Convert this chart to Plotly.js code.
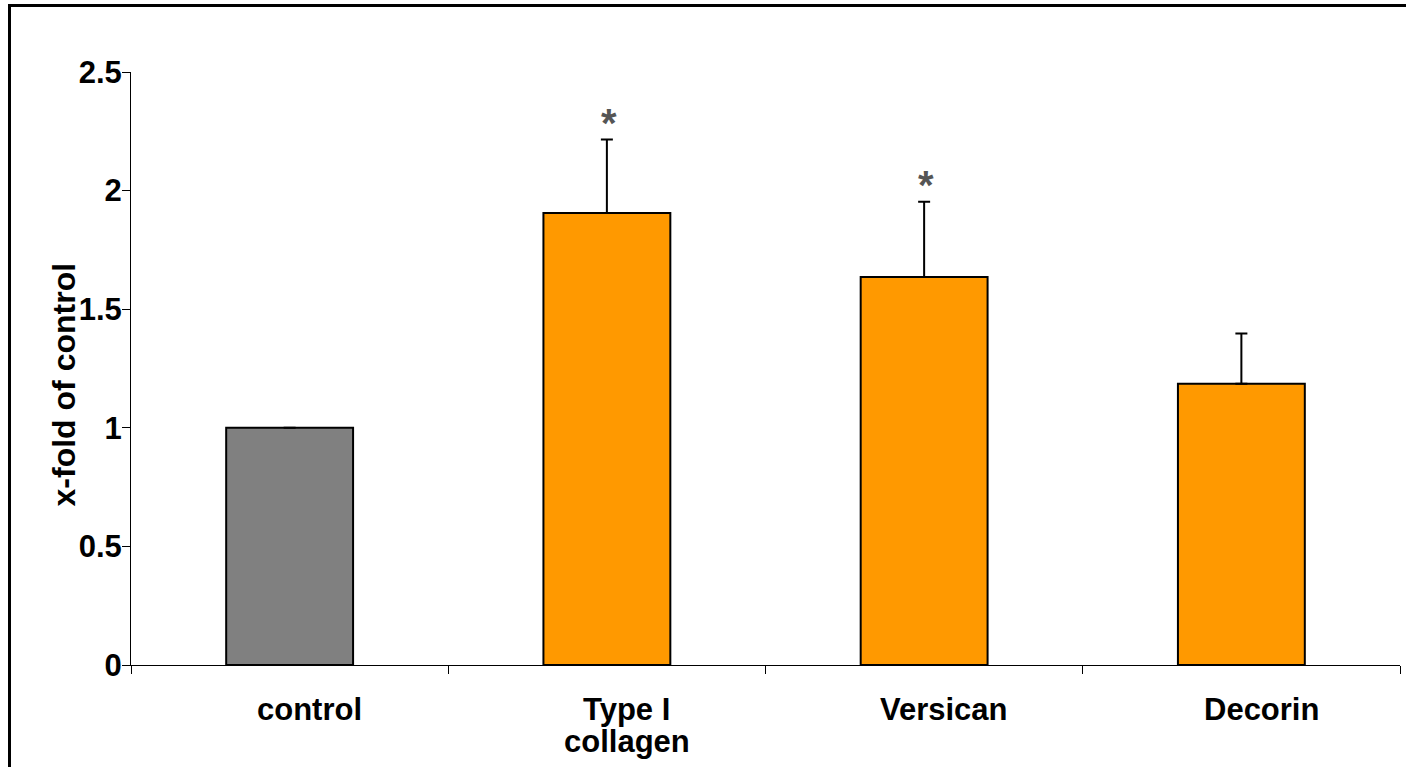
<!DOCTYPE html>
<html><head><meta charset="utf-8">
<script src="https://cdn.plot.ly/plotly-3.0.1.min.js"></script>
<style>
html,body{margin:0;padding:0;background:#fff;overflow:hidden}
#wrap{position:relative;width:1406px;height:767px}
#chart{width:1406px;height:767px}
#frame{position:absolute;left:8px;top:4px;width:1420px;height:790px;border-left:3px solid #000;border-top:3px solid #000;pointer-events:none}
</style></head><body>
<div id="wrap"><div id="chart"></div><div id="frame"></div></div>
<script>
const categories = ['control', 'Type I collagen', 'Versican', 'Decorin'];
const categoryLabelLines = [['control'], ['Type I', 'collagen'], ['Versican'], ['Decorin']];
const foldValues = [1.00, 1.906, 1.636, 1.186];
const errorPlus = [null, 0.309, 0.317, 0.212];
const significance = ['', '*', '*', ''];
const barColors = ['#808080', '#FF9900', '#FF9900', '#FF9900'];
const yTickValues = [0, 0.5, 1, 1.5, 2, 2.5];
const yTickLabels = ['0', '0.5', '1', '1.5', '2', '2.5'];
const yAxisTitle = 'x-fold of control';

const FONT = 'Liberation Sans, Arial, Helvetica, sans-serif';
const LABEL_FONT = {family: FONT, size: 31, color: '#000', weight: 700};

const trace = {
  type: 'bar',
  x: categories,
  y: foldValues,
  width: 0.4,
  marker: {color: barColors, line: {color: '#000', width: 2}},
  error_y: {
    type: 'data', symmetric: false,
    array: errorPlus, arrayminus: errorPlus.map(() => 0),
    color: '#000', thickness: 2, width: 6
  },
  hoverinfo: 'skip'
};

const annotations = [];
categories.forEach((c, i) => {
  if (significance[i]) {
    annotations.push({
      x: c, xref: 'x', y: foldValues[i] + (errorPlus[i] || 0), yref: 'y',
      text: significance[i], showarrow: false, yanchor: 'bottom', yshift: -7, xshift: 2,
      font: {family: FONT, size: 40, color: '#555555', weight: 700}
    });
  }
  categoryLabelLines[i].forEach((line, j) => {
    annotations.push({
      x: c, xref: 'x', y: 0, yref: 'y',
      text: line, showarrow: false, xanchor: 'center', yanchor: 'top',
      xshift: 20, yshift: -25 - j * 32,
      font: LABEL_FONT
    });
  });
});
annotations.push({
  x: -0.053, xref: 'paper', y: 0.4727, yref: 'paper',
  text: yAxisTitle, textangle: -90, showarrow: false,
  xanchor: 'center', yanchor: 'middle',
  font: {family: FONT, size: 32, color: '#000', weight: 700}
});

const layout = {
  width: 1406, height: 767,
  margin: {l: 131, r: 6, t: 72, b: 102, pad: 0},
  paper_bgcolor: '#fff', plot_bgcolor: '#fff',
  showlegend: false,
  xaxis: {
    type: 'category', range: [-0.5, 3.5],
    tickson: 'boundaries', ticks: 'outside', ticklen: 8, tickwidth: 1, tickcolor: '#000',
    showticklabels: false,
    showline: true, linecolor: '#000', linewidth: 1,
    showgrid: false, zeroline: false, fixedrange: true
  },
  yaxis: {
    range: [0, 2.5],
    tickmode: 'array', tickvals: yTickValues, ticktext: yTickLabels,
    ticks: 'outside', ticklen: 8, tickwidth: 1, tickcolor: '#000',
    ticklabelstandoff: -6,
    showline: true, linecolor: '#000', linewidth: 1,
    showgrid: false, zeroline: false, fixedrange: true,
    tickfont: {family: FONT, size: 31, color: '#000', weight: 700}
  },
  annotations: annotations
};

Plotly.newPlot('chart', [trace], layout, {displayModeBar: false, staticPlot: true});
</script>
</body></html>
